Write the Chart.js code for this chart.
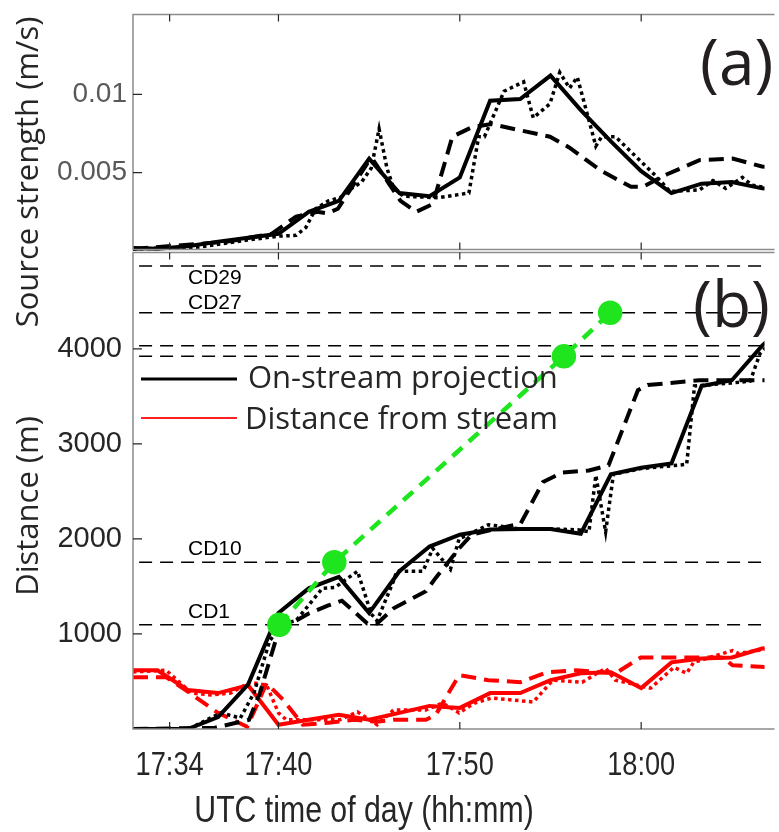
<!DOCTYPE html>
<html>
<head>
<meta charset="utf-8">
<script src="https://cdn.jsdelivr.net/npm/chart.js@4.4.1/dist/chart.umd.min.js"></script>
<style>
  html, body { margin: 0; padding: 0; background: #fff; }
  canvas { display: block; }
</style>
</head>
<body>
<canvas id="myChart" width="779" height="832"></canvas>
<script>
// time is in minutes after 17:00 UTC
var xTickMinutes = [34, 40, 50, 60];
var xTickLabels = ['17:34', '17:40', '17:50', '18:00'];
var sourceTicks = [0.005, 0.01];
var sourceTickLabels = ['0.005', '0.01'];
var distanceTicks = [1000, 2000, 3000, 4000];

// 100 s sampling of the solid (on-stream) curves
var solidTimes = [31.67, 33.33, 35, 36.67, 38.33, 40, 41.67, 43.33, 45, 46.67, 48.33, 50,
                  51.67, 53.33, 55, 56.67, 58.33, 60, 61.67, 63.33, 65, 66.67, 68.33];
var sourceSolid = [0.0002, 0.00015, 0.0003, 0.0006, 0.00085, 0.0011, 0.0025, 0.0032, 0.0059, 0.0037, 0.0035, 0.0047,
                   0.0096, 0.0097, 0.0112, 0.0090, 0.0070, 0.0051, 0.0037, 0.0043, 0.0044, 0.0040, 0.0039];
var distanceSolid = [0, 0, 0, 125, 470, 1220, 1480, 1600, 1220, 1660, 1920, 2045,
                     2100, 2105, 2105, 2055, 2680, 2750, 2795, 3610, 3670, 4035, 4300];
var offStreamSolid = [618, 618, 410, 378, 461, 45, 97, 149, 97, 170, 243, 222,
                      378, 378, 514, 586, 597, 430, 701, 743, 753, 847, 870];

var sourceDottedTimes = [31.98, 35.58, 38.28, 40, 40.97, 41.51, 42.05, 42.75, 43.39, 44.04, 44.58, 45.12, 45.55, 45.98,
                         46.35, 46.89, 48.78, 50.5, 51.04, 51.36, 52.44, 53.52, 54.05, 54.97, 55.51, 56.05, 56.48,
                         57.5, 57.82, 58.58, 60.89, 61.59, 63.21, 63.96, 64.66, 65.58, 66.12, 67.09];
var sourceDotted = [0.00013, 0.00025, 0.0007, 0.00095, 0.0010, 0.0015, 0.0027, 0.0032, 0.0034, 0.0040, 0.0044, 0.0053, 0.0078, 0.0053,
                    0.0040, 0.0035, 0.0034, 0.0037, 0.0073, 0.0073, 0.0102, 0.0108, 0.0085, 0.0094, 0.0114, 0.0104, 0.0111,
                    0.0067, 0.0073, 0.0073, 0.0047, 0.0038, 0.0039, 0.0045, 0.0040, 0.0047, 0.0042, 0.0040];

var sourceDashedTimes = [31.98, 37.2, 39.62, 40.97, 42.15, 42.69, 43.28, 44.9, 45.17, 46.09, 46.73, 47.59, 48.51,
                         49.59, 50.66, 51.74, 53.35, 54.97, 56.05, 57.82, 59.44, 60.09, 61.43, 63.21, 65.04, 66.66, 67.36];
var sourceDashed = [0.00013, 0.0006, 0.0011, 0.0022, 0.0025, 0.0024, 0.0027, 0.0056, 0.0059, 0.0043, 0.0032, 0.0025, 0.0030,
                    0.0073, 0.0079, 0.0081, 0.0077, 0.0073, 0.0066, 0.0051, 0.0041, 0.0041, 0.0049, 0.0058, 0.0059, 0.0054, 0.0053];

var distanceDottedTimes = [31.98, 35.05, 36.82, 37.9, 38.65, 39.52, 40.27, 40.97, 42.42, 43.12, 44.36, 45.12, 45.44, 46.35,
                           46.52, 47.97, 48.51, 49.48, 49.96, 51.58, 53.35, 55.13, 56.59, 57.12, 57.5, 58.04, 58.47,
                           59.98, 62.51, 62.94, 64.93, 66.01, 66.55, 67.09];
var distanceDotted = [0, 0, 170, 115, 380, 930, 1110, 1140, 1480, 1490, 1660, 1210, 1140, 1560,
                      1660, 1660, 1900, 1680, 2000, 2150, 2105, 2105, 2095, 2075, 2670, 2075, 2680,
                      2740, 2785, 3610, 3640, 3660, 3950, 4055];

var distanceDashedTimes = [31.98, 36.5, 38.38, 38.98, 39.89, 40.97, 41.67, 42.75, 43.5, 44.9, 45.44, 46.35, 48.13,
                           48.67, 49.96, 50.66, 51.74, 53.35, 54.59, 55.67, 57.12, 58.2, 59.82, 60.36, 63.21, 66.12, 67.09];
var distanceDashed = [0, 13, 97, 380, 960, 1140, 1215, 1300, 1350, 1110, 1110, 1270, 1450,
                      1590, 1900, 2045, 2095, 2160, 2600, 2700, 2720, 2775, 3565, 3620, 3670, 3670, 3670];

var offStreamDottedTimes = [31.98, 33.81, 35.21, 36.28, 37.36, 38.44, 39.35, 40, 40.43, 41.67, 43.39, 44.36, 45.44,
                            46.35, 48.13, 49.05, 49.96, 50.82, 51.74, 54.05, 55.13, 56.75, 58.04, 58.58, 60.52,
                            61.81, 62.51, 62.89, 65.04, 65.36, 67.09];
var offStreamDotted = [600, 618, 378, 358, 378, 493, 461, 170, 97, 97, 97, 180, 45,
                       201, 201, 274, 170, 274, 326, 284, 514, 493, 639, 514, 430,
                       649, 586, 701, 826, 795, 847];

var offStreamDashedTimes = [31.98, 33.81, 34.88, 36.66, 38.28, 39.35, 40.27, 41.35, 42.75, 44.2, 45.44, 46.35,
                            48.13, 48.67, 49.96, 51.58, 53.35, 54.81, 56.42, 58.58, 59.98, 64.5, 65.04, 67.09];
var offStreamDashed = [545, 545, 410, 170, 24, 482, 305, 45, 66, 97, 76, 97,
                       97, 149, 566, 514, 493, 597, 618, 586, 753, 753, 670, 649];

// stations along the stream (m)
var cdDistances = [1097, 1756, 3922, 4033, 4380, 4873];
var cdNames = ['CD1', 'CD10', 'CD27', 'CD29'];
var cdNameDistances = [1097, 1756, 4380, 4873];

// plume front reaching stations
var frontTimes = [40.05, 43.08, 55.74, 58.29];
var frontDistances = [1097, 1756, 3922, 4380];

function pts(xs, ys) {
    return xs.map(function (x, i) { return { x: x, y: ys[i] }; });
}

var DOT = [3.5, 3.5];
var DASH = [15, 8];
var GREEN = '#1fe51f';

var datasets = [
    { data: pts(frontTimes, frontDistances), yAxisID: 'yB', borderColor: GREEN, borderWidth: 4.5, borderDash: [13, 9],
      pointRadius: 10, pointBackgroundColor: GREEN, pointBorderColor: GREEN, order: 0 },
    { data: pts(solidTimes, sourceSolid), yAxisID: 'yA', borderColor: '#000', borderWidth: 4, pointRadius: 0, order: 1 },
    { data: pts(sourceDottedTimes, sourceDotted), yAxisID: 'yA', borderColor: '#000', borderWidth: 3.5, borderDash: DOT, pointRadius: 0, order: 2 },
    { data: pts(sourceDashedTimes, sourceDashed), yAxisID: 'yA', borderColor: '#000', borderWidth: 4, borderDash: DASH, pointRadius: 0, order: 2 },
    { data: pts(solidTimes, distanceSolid), yAxisID: 'yB', borderColor: '#000', borderWidth: 4, pointRadius: 0, order: 1 },
    { data: pts(distanceDottedTimes, distanceDotted), yAxisID: 'yB', borderColor: '#000', borderWidth: 3.5, borderDash: DOT, pointRadius: 0, order: 2 },
    { data: pts(distanceDashedTimes, distanceDashed), yAxisID: 'yB', borderColor: '#000', borderWidth: 4, borderDash: DASH, pointRadius: 0, order: 2 },
    { data: pts(solidTimes, offStreamSolid), yAxisID: 'yB', borderColor: '#ff0000', borderWidth: 4, pointRadius: 0, order: 3 },
    { data: pts(offStreamDottedTimes, offStreamDotted), yAxisID: 'yB', borderColor: '#ff0000', borderWidth: 3.5, borderDash: DOT, pointRadius: 0, order: 4 },
    { data: pts(offStreamDashedTimes, offStreamDashed), yAxisID: 'yB', borderColor: '#ff0000', borderWidth: 4, borderDash: DASH, pointRadius: 0, order: 4 }
];
cdDistances.forEach(function (d) {
    datasets.push({ data: [{ x: 30, y: d }, { x: 70, y: d }], yAxisID: 'yB', borderColor: '#000', borderWidth: 1.5,
                    borderDash: [13, 8], pointRadius: 0, order: 5 });
});

var OPEN = '"Open Sans", "DejaVu Sans", sans-serif';
var HELV = '"Liberation Sans", Arial, sans-serif';

// text squeezed horizontally, the figure used a narrow Helvetica
function narrowText(ctx, text, cx, baseline, squeeze) {
    ctx.save();
    ctx.translate(cx, baseline);
    ctx.scale(squeeze, 1);
    ctx.fillText(text, 0, 0);
    ctx.restore();
}

var decorations = {
    id: 'decorations',
    afterDraw: function (chart) {
        var ctx = chart.ctx;
        var x = chart.scales.x, yA = chart.scales.yA, yB = chart.scales.yB;
        var left = x.left, right = x.right + 10;
        var panels = [
            { scale: yA, top: yA.top, bottom: yA.bottom - 1.5, ticks: sourceTicks },
            { scale: yB, top: yB.top + 1.5, bottom: yB.bottom, ticks: distanceTicks }
        ];
        ctx.save();
        panels.forEach(function (p) {
            ctx.strokeStyle = '#8c8c8c';
            ctx.lineWidth = 1.5;
            ctx.beginPath();
            ctx.moveTo(right, p.top); ctx.lineTo(left, p.top); ctx.lineTo(left, p.bottom); ctx.lineTo(right, p.bottom);
            ctx.stroke();
            ctx.strokeStyle = '#262626';
            ctx.lineWidth = 1.2;
            ctx.beginPath();
            xTickMinutes.forEach(function (m) {
                var px = x.getPixelForValue(m);
                ctx.moveTo(px, p.top); ctx.lineTo(px, p.top + 7);
                ctx.moveTo(px, p.bottom); ctx.lineTo(px, p.bottom - 7);
            });
            p.ticks.forEach(function (v) {
                var py = p.scale.getPixelForValue(v);
                ctx.moveTo(left, py); ctx.lineTo(left + 9, py);
            });
            ctx.stroke();
        });

        // time tick labels
        ctx.fillStyle = '#262626';
        ctx.textAlign = 'center';
        ctx.textBaseline = 'alphabetic';
        ctx.font = '34px ' + HELV;
        xTickMinutes.forEach(function (m, i) {
            narrowText(ctx, xTickLabels[i], x.getPixelForValue(m), 775, 0.8);
        });
        ctx.font = '36px ' + HELV;
        narrowText(ctx, 'UTC time of day (hh:mm)', 364, 822, 0.84);

        // station names
        var nameShift = { CD1: -7, CD10: -7, CD27: -3.5, CD29: 18.5 };
        ctx.fillStyle = '#000';
        ctx.font = '21px ' + HELV;
        ctx.textAlign = 'left';
        cdNames.forEach(function (name, i) {
            ctx.fillText(name, 188, yB.getPixelForValue(cdNameDistances[i]) + nameShift[name]);
        });

        // legend
        ctx.lineWidth = 3;
        ctx.strokeStyle = '#000';
        ctx.beginPath(); ctx.moveTo(141, 379); ctx.lineTo(237, 379); ctx.stroke();
        ctx.lineWidth = 1.8;
        ctx.strokeStyle = '#ff2020';
        ctx.beginPath(); ctx.moveTo(141, 418); ctx.lineTo(237, 418); ctx.stroke();
        ctx.fillStyle = '#262626';
        ctx.font = '31px ' + OPEN;
        ctx.fillText('On-stream projection', 248, 388);
        ctx.fillText('Distance from stream', 245, 429);

        // panel letters
        ctx.fillStyle = '#231f20';
        ctx.font = '64px ' + OPEN;
        ctx.fillText('(a)', 700, 85);
        ctx.fillText('(b)', 693, 327);

        // axis titles
        ctx.fillStyle = '#262626';
        ctx.font = '31px ' + OPEN;
        ctx.textAlign = 'center';
        [['Source strength (m/s)', 172], ['Distance (m)', 506]].forEach(function (t) {
            ctx.save();
            ctx.translate(38, t[1]);
            ctx.rotate(-Math.PI / 2);
            ctx.fillText(t[0], 0, 0);
            ctx.restore();
        });
        ctx.restore();
    }
};

var ctx = document.getElementById('myChart').getContext('2d');
var myChart = new Chart(ctx, {
    type: 'line',
    data: { datasets: datasets },
    plugins: [decorations],
    options: {
        responsive: false,
        animation: false,
        layout: { padding: { top: 10, right: 0, bottom: 0, left: 0 } },
        elements: { line: { tension: 0, fill: false, borderCapStyle: 'butt' } },
        plugins: { legend: { display: false }, tooltip: { enabled: false } },
        scales: {
            x: {
                type: 'linear',
                min: 31.98,
                max: 66.8,
                grid: { display: false, drawTicks: false },
                border: { display: false },
                afterBuildTicks: function (s) { s.ticks = xTickMinutes.map(function (v) { return { value: v }; }); },
                afterFit: function (s) { s.height = 103; s.paddingLeft = 0; s.paddingRight = 0; },
                ticks: { display: false }
            },
            yB: {
                type: 'linear',
                position: 'left',
                stack: 'panels',
                stackWeight: 481,
                min: 0,
                max: 5030,
                grid: { display: false, drawTicks: false },
                border: { display: false },
                afterBuildTicks: function (s) { s.ticks = distanceTicks.map(function (v) { return { value: v }; }); },
                afterFit: function (s) { s.width = 133; s.paddingTop = 0; s.paddingBottom = 0; },
                ticks: {
                    padding: 11,
                    color: '#262626',
                    font: { family: HELV, size: 29 },
                    callback: function (v) { return String(v); }
                }
            },
            yA: {
                type: 'linear',
                position: 'left',
                stack: 'panels',
                stackWeight: 238,
                min: 0,
                max: 0.0151,
                grid: { display: false, drawTicks: false },
                border: { display: false },
                afterBuildTicks: function (s) { s.ticks = sourceTicks.map(function (v) { return { value: v }; }); },
                afterFit: function (s) { s.width = 133; s.paddingTop = 0; s.paddingBottom = 0; },
                ticks: {
                    padding: 6,
                    color: '#595959',
                    font: { family: HELV, size: 28 },
                    callback: function (v) { return sourceTickLabels[sourceTicks.indexOf(v)]; }
                }
            }
        }
    }
});
</script>
</body>
</html>
